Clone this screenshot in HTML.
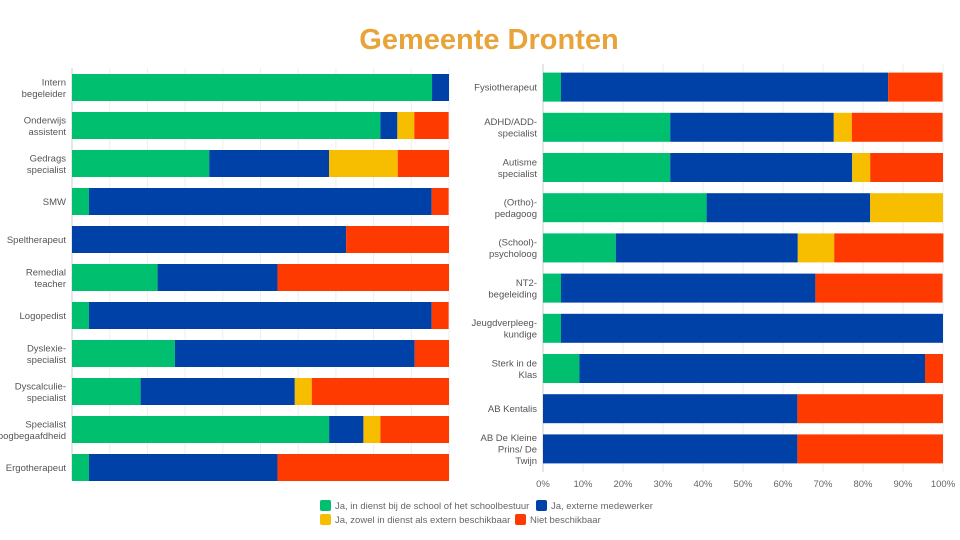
<!DOCTYPE html>
<html><head><meta charset="utf-8">
<style>
html,body{margin:0;padding:0;background:#fff;width:960px;height:540px;overflow:hidden}
svg{display:block;font-family:"Liberation Sans",sans-serif}
</style></head>
<body>
<svg id="chart" width="960" height="540">
<text x="489" y="49" text-anchor="middle" font-size="29" font-weight="bold" fill="#E8A33A">Gemeente Dronten</text>
</svg>
<script>
const leftCategories = [["Intern","begeleider"],["Onderwijs","assistent"],["Gedrags","specialist"],["SMW"],["Speltherapeut"],["Remedial","teacher"],["Logopedist"],["Dyslexie-","specialist"],["Dyscalculie-","specialist"],["Specialist","hoogbegaafdheid"],["Ergotherapeut"]];
const leftGreen  = [95.5,81.8,36.4,4.5,0,22.7,4.5,27.3,18.2,68.2,4.5];
const leftBlue   = [4.5,4.5,31.8,90.9,72.7,31.8,90.9,63.6,40.9,9.1,50.0];
const leftYellow = [0,4.5,18.2,0,0,0,0,0,4.5,4.5,0];
const leftRed    = [0,9.1,13.6,4.5,27.3,45.5,4.5,9.1,36.4,18.2,45.5];
const rightCategories = [["Fysiotherapeut"],["ADHD/ADD-","specialist"],["Autisme","specialist"],["(Ortho)-","pedagoog"],["(School)-","psycholoog"],["NT2-","begeleiding"],["Jeugdverpleeg-","kundige"],["Sterk in de","Klas"],["AB Kentalis"],["AB De Kleine","Prins/ De","Twijn"]];
const rightGreen  = [4.5,31.8,31.8,40.9,18.2,4.5,4.5,9.1,0,0];
const rightBlue   = [81.8,40.9,45.5,40.9,45.5,63.6,95.5,86.4,63.6,63.6];
const rightYellow = [0,4.5,4.5,18.2,9.1,0,0,0,0,0];
const rightRed    = [13.6,22.7,18.2,0,27.3,31.8,0,4.5,36.4,36.4];
const tickLabels = ["0%","10%","20%","30%","40%","50%","60%","70%","80%","90%","100%"];
const seriesNames = ["Ja, in dienst bij de school of het schoolbestuur","Ja, externe medewerker","Ja, zowel in dienst als extern beschikbaar","Niet beschikbaar"];
const colors = ["#00BF6F","#0041A8","#F7BE00","#FF3A00"];

const NS="http://www.w3.org/2000/svg";
const svg=document.getElementById("chart");
function mk(tag,attrs,parent){const e=document.createElementNS(NS,tag);for(const k in attrs)e.setAttribute(k,attrs[k]);(parent||svg).appendChild(e);return e;}

function drawPanel(p){
  const g=mk("g",{});
  
  
  const xs=v=>p.x0+v/100*(p.x1-p.x0);
  for(let i=0;i<=10;i++){
    const l=mk("line",{x1:xs(i*10),x2:xs(i*10),y1:p.top-3,y2:p.bottom+3,stroke:i==0?"#ccc":"#eee","stroke-width":1},g);
    
    
    if(p.ticks){
      const t=mk("text",{x:xs(i*10),y:p.bottom+18,"text-anchor":"middle","font-size":9.5,fill:"#666"},g);
      t.textContent=tickLabels[i];
      
      
    }
  }
  const series=[p.green,p.blue,p.yellow,p.red];
  p.cats.forEach((c,i)=>{
    const cy=p.top+p.step*i+p.step/2-p.offset;
    let acc=0;
    series.forEach((s,k)=>{
      const v=s[i];
      if(v>0){
        const r=mk("rect",{x:xs(acc),y:cy-p.bh/2,width:xs(acc+v)-xs(acc),height:p.bh,fill:colors[k]},g);
        
        
      }
      acc+=v;
    });
    const t=mk("text",{x:p.x0-6,"text-anchor":"end","font-size":9.5,fill:"#555"},g);
    
    
    const lh=11.5, y0=cy+3.5-(c.length-1)*lh/2;
    c.forEach((line,j)=>{const ts=mk("tspan",{x:p.x0-6,y:y0+j*lh},t);ts.textContent=line;});
  });
}
drawPanel({name:"left-chart",x0:72,x1:449,top:71,bottom:477,step:38,offset:2.5,bh:27,cats:leftCategories,green:leftGreen,blue:leftBlue,yellow:leftYellow,red:leftRed,ticks:false});
drawPanel({name:"right-chart",x0:543,x1:943,top:67,bottom:469,step:40.2,offset:0,bh:29,cats:rightCategories,green:rightGreen,blue:rightBlue,yellow:rightYellow,red:rightRed,ticks:true});

const legPos=[[320,505],[536,505],[320,519],[515,519]];
seriesNames.forEach((n,i)=>{
  const g=mk("g",{});
  
  
  mk("rect",{x:legPos[i][0],y:legPos[i][1]-5,width:11,height:11,rx:2,fill:colors[i]},g);
  const t=mk("text",{x:legPos[i][0]+15,y:legPos[i][1]+4,"font-size":9.5,fill:"#666"},g);
  t.textContent=n;
});
</script>
</body></html>
